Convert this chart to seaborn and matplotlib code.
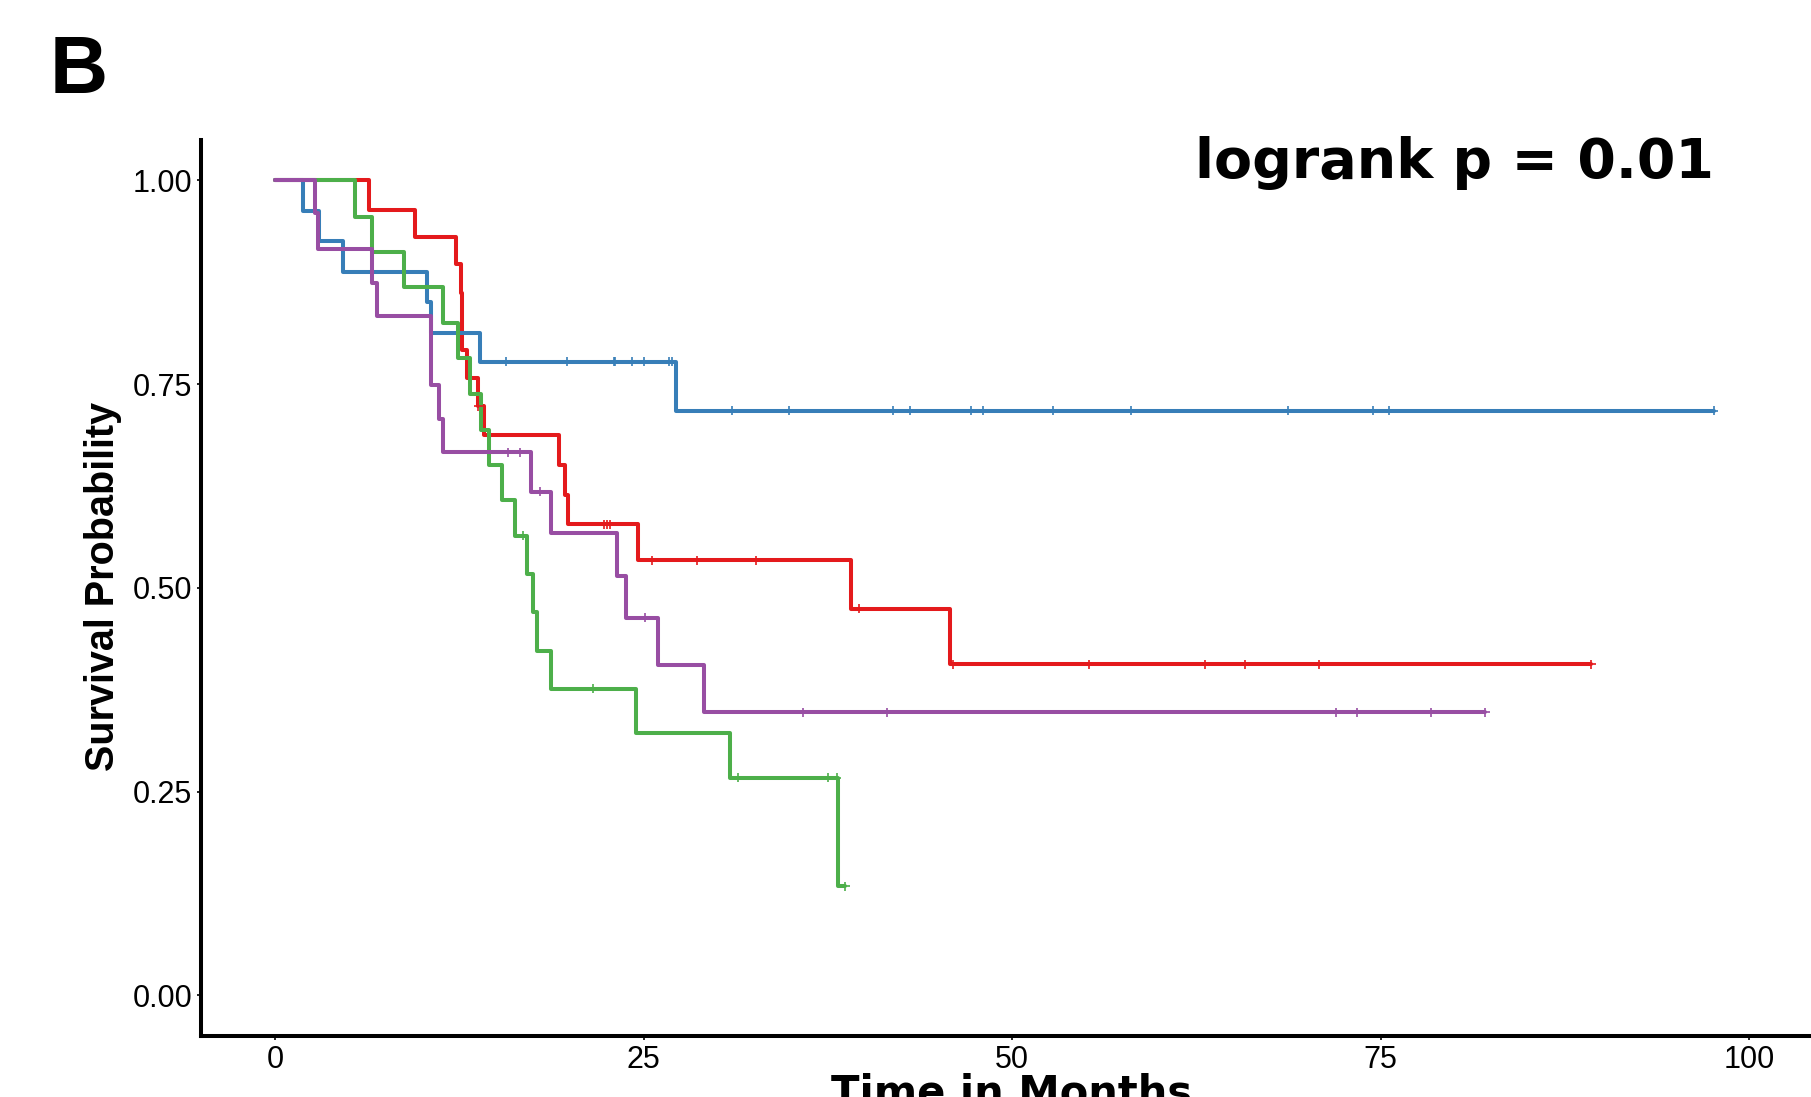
import numpy as np
import pandas as pd
import matplotlib
matplotlib.use("Agg")
import matplotlib.pyplot as plt
import seaborn as sns

# ---- data (Kaplan-Meier step curves) ----
group_names = ["Group 1", "Group 2", "Group 3", "Group 4"]
group_colors = ["#E41A1C", "#377EB8", "#4DAF4A", "#984EA3"]

red_times = [0, 6.4, 9.5, 12.3, 12.6, 12.7, 13.0, 13.8, 14.2, 19.3, 19.7, 19.9, 24.6, 39.1, 45.8]
red_surv = [1.0, 0.964, 0.930, 0.897, 0.862, 0.792, 0.757, 0.723, 0.687, 0.651, 0.614, 0.578, 0.534, 0.474, 0.406]
red_end = 89.3
red_censor = [13.8, 22.3, 22.5, 22.7, 25.6, 28.6, 32.6, 39.6, 46.0, 55.2, 63.1, 65.8, 70.8, 89.3]

blue_times = [0, 1.9, 3.0, 4.6, 10.3, 10.55, 13.9, 27.2]
blue_surv = [1.0, 0.962, 0.925, 0.888, 0.851, 0.813, 0.777, 0.717]
blue_end = 97.6
blue_censor = [15.7, 19.8, 23.0, 23.1, 24.2, 25.0, 26.7, 26.9, 31.0, 34.9, 41.9, 43.1,
               47.2, 48.0, 52.8, 58.1, 68.7, 74.5, 75.6, 97.6]

green_times = [0, 5.4, 6.6, 8.75, 11.4, 12.4, 13.2, 14.0, 14.5, 15.4, 16.3, 17.1, 17.5, 17.8, 18.7, 24.5, 30.9, 38.2]
green_surv = [1.0, 0.955, 0.912, 0.869, 0.825, 0.782, 0.738, 0.694, 0.651, 0.608, 0.564, 0.517, 0.470, 0.423, 0.376, 0.322, 0.267, 0.134]
green_end = 38.7
green_censor = [16.8, 21.6, 31.4, 37.5, 38.1, 38.7]

purple_times = [0, 2.7, 2.95, 6.6, 6.9, 10.6, 11.15, 11.4, 17.35, 18.7, 23.2, 23.8, 26.0, 29.1]
purple_surv = [1.0, 0.960, 0.916, 0.874, 0.833, 0.749, 0.707, 0.666, 0.618, 0.567, 0.515, 0.463, 0.405, 0.347]
purple_end = 82.1
purple_censor = [15.8, 16.6, 18.0, 25.1, 35.8, 41.5, 72.0, 73.4, 78.4, 82.1]

x_ticks = [0, 25, 50, 75, 100]
y_ticks = [0.00, 0.25, 0.50, 0.75, 1.00]
y_tick_labels = ["0.00", "0.25", "0.50", "0.75", "1.00"]
pval_text = "logrank p = 0.01"
panel_label = "B"

# ---- build tables ----
curves = [
    (red_times, red_surv, red_end, red_censor),
    (blue_times, blue_surv, blue_end, blue_censor),
    (green_times, green_surv, green_end, green_censor),
    (purple_times, purple_surv, purple_end, purple_censor),
]
line_rows = []
cens_rows = []
for name, (t, s, end, cens) in zip(group_names, curves):
    tt = list(t) + [end]
    ss = list(s) + [s[-1]]
    for a, b in zip(tt, ss):
        line_rows.append({"time": a, "surv": b, "group": name})
    t_arr = np.asarray(t)
    s_arr = np.asarray(s)
    for c in cens:
        idx = np.searchsorted(t_arr, c, side="right") - 1
        cens_rows.append({"time": c, "surv": s_arr[idx], "group": name})
lines_df = pd.DataFrame(line_rows)
cens_df = pd.DataFrame(cens_rows)
palette = dict(zip(group_names, group_colors))

# ---- plot ----
sns.set_theme(style="ticks")
plt.rcParams["font.family"] = ["Liberation Sans", "DejaVu Sans"]
plt.rcParams["text.color"] = "black"
plt.rcParams["axes.labelcolor"] = "black"
plt.rcParams["xtick.color"] = "black"
plt.rcParams["ytick.color"] = "black"

W, H = 1811, 1097
fig = plt.figure(figsize=(W / 100, H / 100), dpi=100)
ax_left, ax_bottom = 201.3, 1036.0
ax_w, ax_h = 1621.4, 896.5
ax = fig.add_axes([ax_left / W, (H - ax_bottom) / H, ax_w / W, ax_h / H])

sns.lineplot(data=lines_df, x="time", y="surv", hue="group", palette=palette,
             hue_order=group_names, estimator=None, sort=False,
             drawstyle="steps-post", linewidth=2.9, legend=False, ax=ax)
sns.scatterplot(data=cens_df, x="time", y="surv", hue="group", palette=palette,
                hue_order=group_names, marker="+", s=42, linewidth=1.2,
                legend=False, ax=ax, zorder=3)

ax.set_xlim(-5, 105)
ax.set_ylim(-0.05, 1.05)
ax.set_xticks(x_ticks)
ax.set_xticklabels([str(v) for v in x_ticks])
ax.set_yticks(y_ticks)
ax.set_yticklabels(y_tick_labels)
ax.tick_params(axis="both", labelsize=22, length=3.0, width=1.2, pad=3.5,
               color="black", labelcolor="black")
for sp in ["top", "right"]:
    ax.spines[sp].set_visible(False)
for sp in ["left", "bottom"]:
    ax.spines[sp].set_linewidth(2.9)
    ax.spines[sp].set_color("black")
ax.grid(False)

ax.set_xlabel("Time in Months", fontsize=30, fontweight="bold",
              family=["DejaVu Sans"], color="black")
ax.xaxis.set_label_coords(0.5, (ax_bottom - 1072) / ax_h)
ax.xaxis.label.set_va("top")
ax.set_ylabel("Survival Probability", fontsize=28.5, fontweight="bold",
              family=["Liberation Sans", "DejaVu Sans"], color="black")
ax.yaxis.set_label_coords((121.7 - ax_left) / ax_w, 0.502)

fig.text(1714 / W, 1 - 178 / H, pval_text, ha="right", va="baseline",
         fontsize=40, fontweight="bold", family=["DejaVu Sans"], color="black")
fig.text(50 / W, 1 - 93 / H, panel_label, ha="left", va="baseline",
         fontsize=58, fontweight="bold", family=["Liberation Sans", "DejaVu Sans"],
         color="black")

fig.savefig("out.png", dpi=100, facecolor="white")
